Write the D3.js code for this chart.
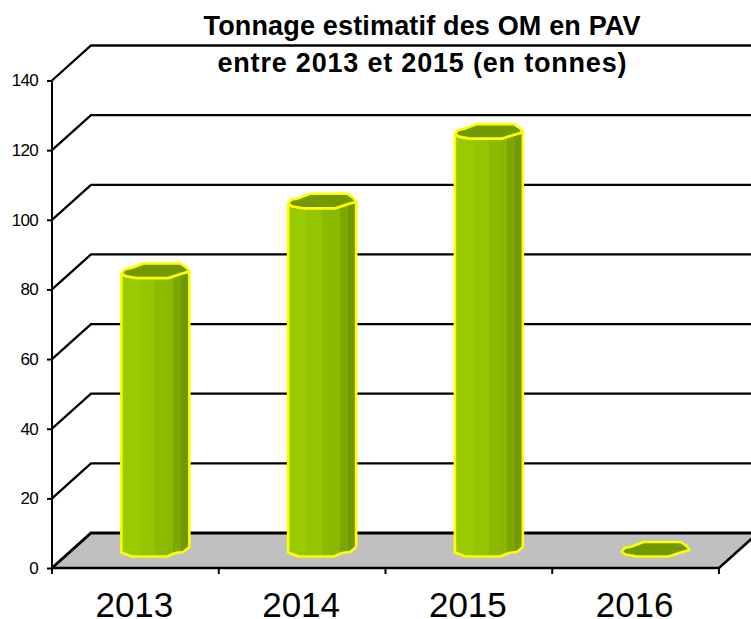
<!DOCTYPE html>
<html><head><meta charset="utf-8">
<script src="https://cdn.jsdelivr.net/npm/d3@7/dist/d3.min.js"></script>
<style>html,body{margin:0;padding:0;background:#fff}svg{display:block}text{font-family:"Liberation Sans",Arial,sans-serif;fill:#000}</style>
</head><body><svg id="c" width="751" height="619"></svg>
<script>
const categories = ["2013","2014","2015","2016"];
const values = [80,100,120,0];
const yTicks = [0,20,40,60,80,100,120,140];
const titleLines = ["Tonnage estimatif des OM en PAV","entre 2013 et 2015 (en tonnes)"];
const titleWidths = [437,409];
const stripeColors = ["#99cc00","#94c500","#8cba00","#8ab800","#7ca600","#739900"];
const stripeStops = [0,0.27,0.5,0.68,0.76,0.88,1];

const svg = d3.select("#c");
const x0=52,x1=719,yB=568,yT=80.5,dx=39,dy=-35;
const y = d3.scaleLinear().domain([0,140]).range([yB,yT]);
const x = d3.scaleBand().domain(categories).range([x0,x1]);
const xIdx = d3.scaleLinear().domain([0,categories.length]).range([x0,x1]);
const line = d3.line();

svg.append("path").attr("fill","#c0c0c0")
  .attr("d",line([[x0,yB],[x0+dx,yB+dy],[x1+dx,yB+dy],[x1,yB]])+"Z");

svg.append("g").selectAll("path").data(yTicks).join("path")
  .attr("fill","none").attr("stroke","#000")
  .attr("stroke-width",d=>d===0?3:2.3)
  .attr("d",d=>line([[x0,y(d)],[x0+dx,y(d)+dy],[x1+dx+1,y(d)+dy]]));

svg.append("path").attr("fill","none").attr("stroke","#000").attr("stroke-width",2.5)
  .attr("d",line([[x0,yB],[x1,yB],[x1+dx,yB+dy]]));

const ax = svg.append("g").attr("transform",`translate(${x0},0)`)
  .call(d3.axisLeft(y).tickValues(yTicks).tickSize(5).tickPadding(9).tickFormat(d3.format("d")));
ax.selectAll(".domain").attr("stroke","#000").attr("stroke-width",2).attr("d",line([[0,yT],[0,yB+6]]));
ax.selectAll(".tick line").attr("stroke","#000").attr("stroke-width",2);
ax.selectAll(".tick text").style("font-size","17px").style("letter-spacing","-0.7px").attr("font-family",null);

svg.append("g").selectAll("line").data(d3.range(categories.length+1)).join("line")
  .attr("x1",d=>xIdx(d)).attr("x2",d=>xIdx(d)).attr("y1",yB).attr("y2",yB+6)
  .attr("stroke","#000").attr("stroke-width",2);

svg.append("g").selectAll("text").data(categories).join("text")
  .attr("x",d=>x(d)+x.bandwidth()/2-1).attr("y",617)
  .attr("text-anchor","middle").style("font-size","35px").text(d=>d);

const defs = svg.append("defs");
const grad = defs.append("linearGradient").attr("id","body");
stripeColors.forEach((col,i)=>{
  grad.append("stop").attr("offset",stripeStops[i]).attr("stop-color",col);
  grad.append("stop").attr("offset",stripeStops[i+1]).attr("stop-color",col);
});
const capBack = [[-34,2.5],[-31,-1.5],[-24,-3],[-12,-7.5],[25,-7.5],[31,-3.5],[34,0.5]];
const capFront = [[25,3],[13,7],[-19,7],[-30,5]];
const baseFront = [[34,-2.5],[28,2.5],[20,3.5],[11.5,7],[-23.5,7],[-34,3]];
const depthX = 20, depthY = -18.5;
const bars = svg.append("g").selectAll("g").data(categories.map((c,i)=>({c,v:values[i]}))).join("g")
  .attr("transform",d=>`translate(${x(d.c)+x.bandwidth()/2+depthX},${depthY})`);
bars.each(function(d){
  const g=d3.select(this), yb=y(0), yt=y(d.v);
  const at = (pts,yy)=>pts.map(([a,b])=>[a,yy+b]);
  if(d.v>0){
    const upper = at([capBack[0],...capFront.slice().reverse(),capBack[capBack.length-1]],yt);
    g.append("path").attr("fill","url(#body)").attr("stroke","#ffff00").attr("stroke-width",2.6)
      .attr("stroke-linejoin","round").attr("d",line(upper.concat(at(baseFront,yb)))+"Z");
  }
  g.append("path").attr("fill","#739900").attr("stroke","#ffff00").attr("stroke-width",2.6)
    .attr("stroke-linejoin","round").attr("d",line(at(capBack.concat(capFront),yt))+"Z");
});

svg.append("g").selectAll("text").data(titleLines).join("text")
  .attr("x",422).attr("y",(d,i)=>35+i*36.5).attr("text-anchor","middle")
  .attr("textLength",(d,i)=>titleWidths[i]).attr("lengthAdjust","spacing")
  .style("font-size","27px").style("font-weight","bold").text(d=>d);
</script></body></html>
